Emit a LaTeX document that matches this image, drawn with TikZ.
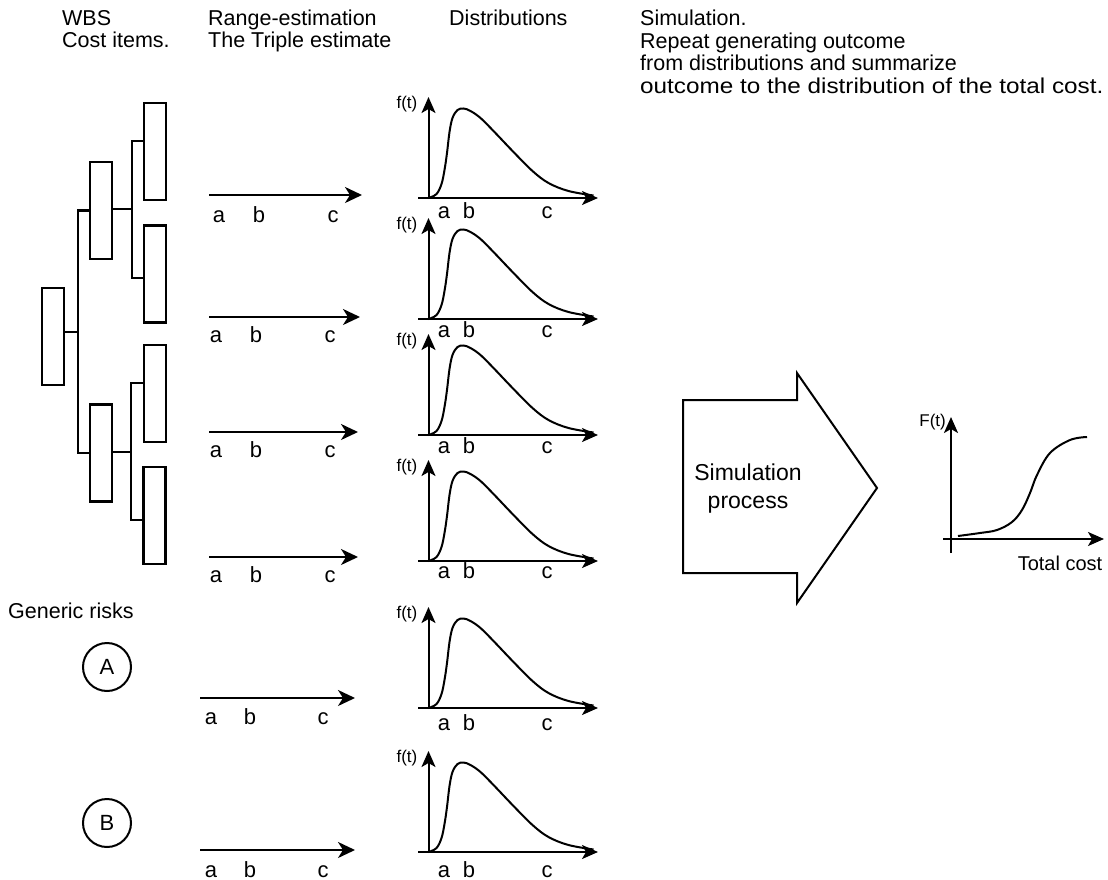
\documentclass[tikz,border=0pt]{standalone}
\usepackage{fontspec}
\setmainfont{Liberation Sans}
\usetikzlibrary{arrows.meta}
\begin{document}
\begin{tikzpicture}[x=1pt,y=-1pt,
  wbsbox/.style={draw,line width=2.2pt,minimum width=22pt,minimum height=97pt,inner sep=0pt},
  conn/.style={line width=2.2pt},
  rangearrow/.style={line width=2pt,-{Stealth[length=17pt,width=16pt,inset=5pt]}},
  axisarrow/.style={line width=2pt,-{Stealth[length=16pt,width=14pt,inset=4pt]}},
  curve/.style={line width=2pt},
  lbl/.style={font=\fontsize{22}{26}\selectfont,inner sep=0pt},
  small/.style={font=\fontsize{17}{20}\selectfont,inner sep=0pt},
  hdr/.style={font=\fontsize{21.5}{24}\selectfont,inner sep=0pt,anchor=base west},
  riskcircle/.style={draw,circle,line width=2pt,minimum size=48pt,inner sep=0pt,font=\fontsize{22}{26}\selectfont},
]
\useasboundingbox (0,0) rectangle (1108,880);

% headers
\node[hdr] (h1) at (62,26) {WBS};
\node[hdr] (h2) at (62,48) {Cost items.};
\node[hdr] (h3) at (208,26) {Range-estimation};
\node[hdr] (h4) at (208,48) {The Triple estimate};
\node[hdr] (h5) at (449,26) {Distributions};
\node[hdr] (h6) at (640,26) {Simulation.};
\node[hdr] (h7) at (640,49) {Repeat generating outcome};
\node[hdr] (h8) at (640,71) {from distributions and summarize};
\node[hdr] (h9) at (640,94) {\scalebox{1.13}[1]{outcome to the distribution of the total cost.}};
\node[hdr] (gr) at (8,618) {Generic risks};

% WBS tree
\node[wbsbox] (root) at (53,336.5) {};
\node[wbsbox] (l2a) at (101,210.5) {};
\node[wbsbox] (l2b) at (101,453) {};
\node[wbsbox] (lf1) at (155,151.5) {};
\node[wbsbox] (lf2) at (155,274) {};
\node[wbsbox] (lf3) at (155,393.5) {};
\node[wbsbox] (lf4) at (154.5,515.5) {};
\coordinate (bus0) at ([xshift=13pt,yshift=4.5pt]root.east);
\draw[conn] ([yshift=4.5pt]root.east) -- (bus0);
\draw[conn] (l2a.west) -| (bus0) |- (l2b.west);
\coordinate (bus1) at ([xshift=18.5pt,yshift=1.5pt]l2a.east);
\draw[conn] ([yshift=1.5pt]l2a.east) -- (bus1);
\draw[conn] ([yshift=10.5pt]lf1.west) -| (bus1) |- ([yshift=-4pt]lf2.west);
\coordinate (bus2) at ([xshift=18pt,yshift=1pt]l2b.east);
\draw[conn] ([yshift=1pt]l2b.east) -- (bus2);
\draw[conn] ([yshift=10.5pt]lf3.west) -| (bus2) |- ([yshift=-4.5pt]lf4.west);

% generic risks
\node[riskcircle] (rA) at (107,667) {A};
\node[riskcircle] (rB) at (107,823) {B};

% range estimation arrows
\foreach \i/\ay/\ly/\xs/\xe/\xa/\xb/\xc in {1/195/222/209/362/219/259/333, 2/317/342/209/360/216/256/330, 3/432/457/209/358/216/256/330, 4/557/582/209/358/216/256/330, 5/698/724/200/355/211/250/323, 6/850/877/200/355/211/250/323}{
  \coordinate (rs\i) at (\xs,\ay);
  \coordinate (re\i) at (\xe,\ay);
  \draw[rangearrow] (rs\i) -- (re\i);
  \node[lbl,anchor=base] (ra\i) at (\xa,\ly) {a};
  \node[lbl,anchor=base] (rb\i) at (\xb,\ly) {b};
  \node[lbl,anchor=base] (rc\i) at (\xc,\ly) {c};
}

% distributions
\foreach \i/\by/\ly in {1/198/218, 2/319/337, 3/435/453, 4/561/578, 5/708/730, 6/852/877}{
  \coordinate (o\i) at (428.5,\by);
  \draw[axisarrow] ([xshift=-10.5pt]o\i) -- ([xshift=169.5pt]o\i);
  \draw[axisarrow] ([yshift=-1pt]o\i) -- ([yshift=101pt]o\i);
  \draw[curve,shift={(o\i)}] plot[smooth,tension=0.6] coordinates {(0,0) (8,-4) (13,-14) (16,-28) (18.5,-45) (21,-66) (24,-80) (29,-88) (35,-89.5) (42,-87) (52,-80) (65,-67) (85,-46) (104,-27) (120,-15) (140,-7) (165,-2.5)};
  \node[small,anchor=east] (ft\i) at ([shift={(-11,-94)}]o\i) {f(t)};
  \node[lbl,anchor=base] (da\i) at (444,\ly) {a};
  \node[lbl,anchor=base] (db\i) at (469,\ly) {b};
  \node[lbl,anchor=base] (dc\i) at (547,\ly) {c};
}

% simulation arrow
\draw[line width=2pt,line join=miter] (683,400) -- (797,400) -- (797,373) -- (877,488) -- (797,603) -- (797,573) -- (683,573) -- cycle;
\node[font=\fontsize{23}{28}\selectfont,inner sep=0pt,anchor=base] (sim1) at (748,480) {Simulation};
\node[font=\fontsize{23}{28}\selectfont,inner sep=0pt,anchor=base] (sim2) at (748,508) {process};

% cumulative distribution
\coordinate (O) at (951,539);
\draw[axisarrow] ([xshift=-8pt]O) -- ([xshift=153pt]O);
\draw[axisarrow] ([yshift=-14pt]O) -- ([yshift=122pt]O);
\draw[curve] plot[smooth,tension=0.6] coordinates {(958,536) (980,533) (997,530) (1012,522) (1022,510) (1030,493) (1037,475) (1050,453) (1070,440) (1087,437)};
\node[small,anchor=east] (Ft) at (946,422) {F(t)};
\node[font=\fontsize{20}{24}\selectfont,inner sep=0pt] (tc) at (1060,563) {Total cost};
\end{tikzpicture}
\end{document}
